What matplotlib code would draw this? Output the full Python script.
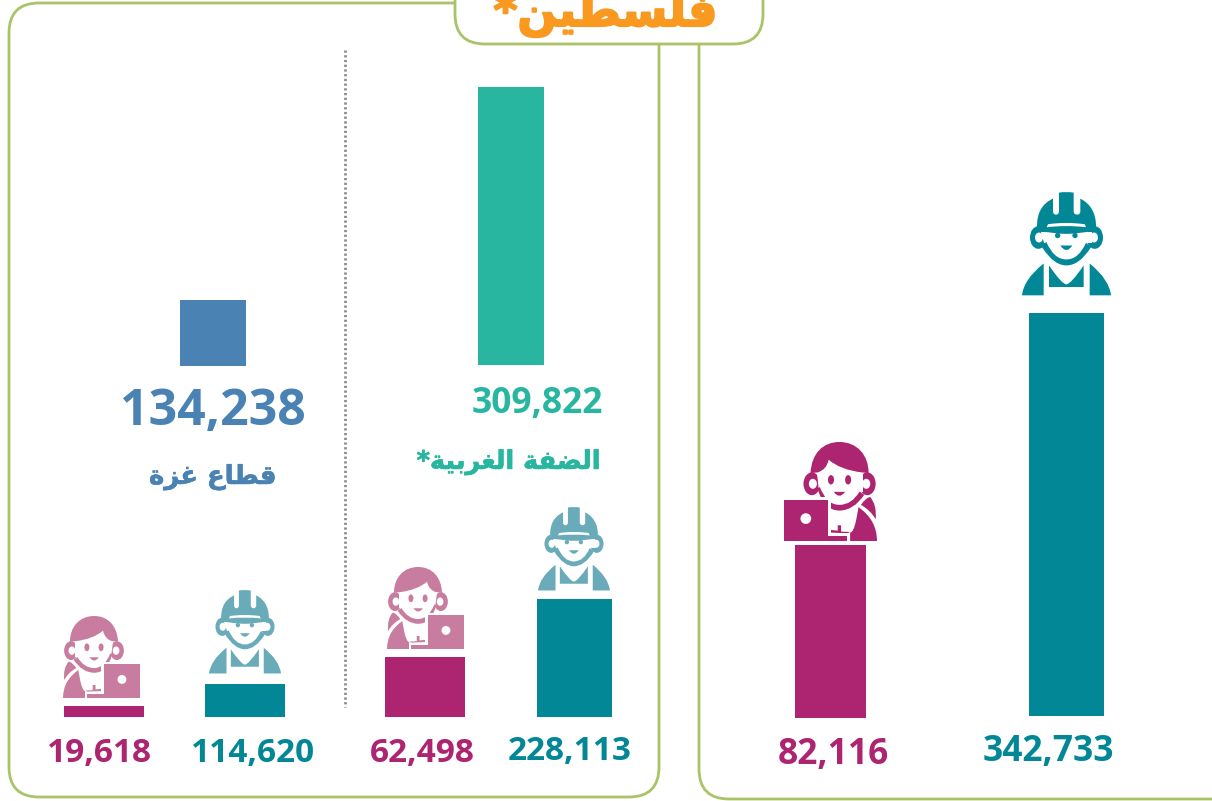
import re
import numpy as np
import matplotlib
matplotlib.use("Agg")
import matplotlib.pyplot as plt
import matplotlib.patheffects as pe
from matplotlib.path import Path
from matplotlib.patches import PathPatch, FancyBboxPatch

# ---------- data ----------
title_text = "فلسطين*"
gaza_text = "قطاع غزة"
westbank_text = "الضفة الغربية*"

gaza_total = 134238
westbank_total = 309822
total_values = [gaza_total, westbank_total]
total_bar_heights = [66, 278]          # pictorial heights as drawn

gaza_values = [19618, 114620]          # women, men
gaza_bar_heights = [11, 33]
westbank_values = [62498, 228113]
westbank_bar_heights = [60, 118]
palestine_values = [82116, 342733]
palestine_bar_heights = [173, 403]

# ---------- colours ----------
MAGENTA, TEAL = "#AD2470", "#028796"
PALE_MAG, PALE_TEAL = "#C87DA0", "#6AABBA"
BLUE, GREEN, ORANGE, FRAME = "#4A82B3", "#29B6A0", "#F9991F", "#A9C467"

plt.rcParams["font.family"] = ["Open Sans", "DejaVu Sans"]

# ---------- Arabic shaping (matplotlib does not shape or reorder) ----------
FORMS = {
    "ا": (0xFE8D, 0xFE8E), "ة": (0xFE93, 0xFE94), "ر": (0xFEAD, 0xFEAE), "ز": (0xFEAF, 0xFEB0),
    "ب": (0xFE8F, 0xFE90, 0xFE91, 0xFE92), "س": (0xFEB1, 0xFEB2, 0xFEB3, 0xFEB4),
    "ض": (0xFEBD, 0xFEBE, 0xFEBF, 0xFEC0), "ط": (0xFEC1, 0xFEC2, 0xFEC3, 0xFEC4),
    "ع": (0xFEC9, 0xFECA, 0xFECB, 0xFECC), "غ": (0xFECD, 0xFECE, 0xFECF, 0xFED0),
    "ف": (0xFED1, 0xFED2, 0xFED3, 0xFED4), "ق": (0xFED5, 0xFED6, 0xFED7, 0xFED8),
    "ل": (0xFEDD, 0xFEDE, 0xFEDF, 0xFEE0), "ن": (0xFEE5, 0xFEE6, 0xFEE7, 0xFEE8),
    "ي": (0xFEF1, 0xFEF2, 0xFEF3, 0xFEF4),
}


def shape(s):
    out = []
    for i, c in enumerate(s):
        f = FORMS.get(c)
        if f is None:
            out.append(c)
            continue
        p = s[i - 1] if i else ""
        n = s[i + 1] if i + 1 < len(s) else ""
        prev_joins = p in FORMS and len(FORMS[p]) == 4
        next_joins = n in FORMS and len(f) == 4
        if prev_joins and next_joins:
            g = f[3]
        elif prev_joins:
            g = f[1]
        elif next_joins:
            g = f[2]
        else:
            g = f[0]
        out.append(chr(g))
    return "".join(reversed(out))


# ---------- icons: outlines traced on a local grid ----------
def svg(d):
    toks = re.findall(r"[MLQCZ]|-?\d+\.?\d*", d)
    v, c, i = [], [], 0
    n = {"M": (1, Path.MOVETO), "L": (1, Path.LINETO), "Q": (2, Path.CURVE3), "C": (3, Path.CURVE4)}
    while i < len(toks):
        t = toks[i]
        i += 1
        if t == "Z":
            v.append(v[-1])
            c.append(Path.CLOSEPOLY)
        else:
            cnt, code = n[t]
            for _ in range(cnt):
                v.append((float(toks[i]), float(toks[i + 1])))
                c.append(code)
                i += 2
    return Path(v, c)


def ell(x, y, rx, ry=None):
    u = Path.unit_circle()
    return Path(u.vertices * [rx, ry or rx] + [x, y], u.codes)


WORKER = ((755, 1022, 37, 350), [
    (1, ell(804, 174, 25, 34)), (1, ell(973, 174, 25, 34)),
    (0, ell(806, 174, 12, 15)), (0, ell(971, 174, 12, 15)),
    (0, svg("M812 158 L965 158 L965 190 L822 190 Z")),
    (1, svg("M800 140 C800 100 815 72 848 57 L848 95 Q848 105 857 105 Q866 105 866 95 L866 39 "
            "Q888 35 910 39 L910 95 Q910 105 921 105 Q930 105 930 95 L930 57 C960 72 977 100 977 140 "
            "L977 152 Q930 163 888 163 Q845 163 800 152 Z")),
    (0, svg("M829 143 L833 134 Q888 126 943 134 L947 143 Q888 136 829 143 Z")),
    (1, svg("M815 203 Q850 258 888 258 Q928 258 962 203 L947 190 Q925 240 888 240 Q850 240 828 187 Z")),
    (1, ell(862, 168, 8)), (1, ell(914, 168, 8)),
    (1, svg("M870 198 L906 198 Q888 225 870 198 Z")),
    (1, svg("M755 348 Q760 300 820 252 L820 348 Z")),
    (1, svg("M1022 348 Q1017 300 958 252 L958 348 Z")),
    (1, svg("M836 258 Q875 315 888 315 Q901 315 940 258 L940 323 L836 323 Z")),
])

WOMAN = ((43, 320, 787, 1083), [
    (1, ell(126, 912, 25, 34)), (1, ell(291, 912, 25, 34)),
    (0, ell(129, 912, 12, 15)), (0, ell(288, 912, 12, 15)),
    (0, svg("M140 880 L278 880 L278 935 L148 935 Z")),
    (1, svg("M122 880 C125 820 160 787 208 787 C260 787 295 825 295 880 L275 878 "
            "Q210 870 176 840 Q170 870 143 878 Z")),
    (1, svg("M143 925 Q160 992 208 992 Q250 992 282 945 L268 935 Q245 975 208 975 Q170 975 150 922 Z")),
    (1, ell(183, 900, 9, 14)), (1, ell(234, 900, 9, 14)),
    (1, svg("M191 936 L225 936 Q208 960 191 936 Z")),
    (1, svg("M272 975 Q290 950 300 952 Q320 975 316 1018 Q300 990 272 975 Z")),
    (1, svg("M240 1083 L240 1058 Q250 1058 258 1020 L265 982 Q320 1020 320 1083 Z")),
    (1, svg("M183 1050 L203 1052 L203 1036 L213 1036 L213 1055 L240 1056 L232 1060 L183 1058 Z")),
    (0, svg("M35 952 L182 952 L182 1060 L240 1060 L240 1090 L35 1090 Z")),
    (1, svg("M43 960 L174 960 L174 1068 L232 1068 L232 1083 L43 1083 Z")),
    (0, ell(108, 1016, 16)),
])


def icon(ax, spec, left, top, w, h, color, mirror=False):
    (x0, x1, y0, y1), shapes = spec
    for dark, p in shapes:
        v = p.vertices.copy()
        fx = (v[:, 0] - x0) / (x1 - x0)
        if mirror:
            fx = 1 - fx
        v = np.column_stack([left + fx * w, top + (v[:, 1] - y0) / (y1 - y0) * h])
        ax.add_patch(PathPatch(Path(v, p.codes), fc=color if dark else "white", lw=0, zorder=4))


# ---------- figure: axes in picture units ----------
fig = plt.figure(figsize=(12.12, 8.01), dpi=100)
ax = fig.add_axes([0, 0, 1, 1])
ax.set_xlim(0, 1212)
ax.set_ylim(801, 0)
ax.axis("off")

# frames
frame = dict(fc="none", ec=FRAME, lw=2.0, zorder=1)
ax.add_patch(FancyBboxPatch((9, 3), 650, 794, boxstyle="round,pad=0,rounding_size=30", **frame))
ax.add_patch(FancyBboxPatch((699, -100), 700, 899, boxstyle="round,pad=0,rounding_size=30", **frame))
ax.add_patch(FancyBboxPatch((455, -100), 308, 144, boxstyle="round,pad=0,rounding_size=30",
                            fc="white", ec=FRAME, lw=2.0, zorder=2))
ax.plot([345, 345], [50, 707], color="#8C8C8C", lw=2.0, ls=(0, (0.8, 0.9)), zorder=1)


def bars(centers, heights, bases, widths, colors):
    ax.bar(centers, -np.asarray(heights, float), width=widths, bottom=bases, color=colors, zorder=3)


bars([104, 245], gaza_bar_heights, 717, 80, [MAGENTA, TEAL])
bars([425, 574.5], westbank_bar_heights, 717, [80, 75], [MAGENTA, TEAL])
bars([213, 511], total_bar_heights, [366, 365], 66, [BLUE, GREEN])
bars([830.5, 1066.5], palestine_bar_heights, [718, 716], [71, 75], [MAGENTA, TEAL])

# icons
icon(ax, WOMAN, 63, 616, 77, 82, PALE_MAG, mirror=True)
icon(ax, WORKER, 209, 590, 72, 84, PALE_TEAL)
icon(ax, WOMAN, 387, 567, 77, 82, PALE_MAG, mirror=True)
icon(ax, WORKER, 538, 507, 72, 84, PALE_TEAL)
icon(ax, WOMAN, 784, 442, 93, 99, MAGENTA)
icon(ax, WORKER, 1022, 192, 89, 104, TEAL)


def num(x, y, v, color, size):
    ax.text(x, y, f"{v:,}", color=color, fontsize=size, fontweight="bold", ha="center", va="center", zorder=5)


num(99.5, 753, gaza_values[0], MAGENTA, 24)
num(253, 753, gaza_values[1], TEAL, 24)
num(422, 754, westbank_values[0], MAGENTA, 24)
num(570, 752, westbank_values[1], TEAL, 24)
num(833, 755, palestine_values[0], MAGENTA, 25.5)
num(1048, 752, palestine_values[1], TEAL, 25.5)
num(213, 412, total_values[0], BLUE, 36)
num(537, 404, total_values[1], GREEN, 25.5)

arab = ["DejaVu Sans"]


def arabic(x, y, s, color, size, stroke, va="center"):
    t = ax.text(x, y, shape(s), color=color, fontsize=size, fontweight="bold",
                family=arab, ha="center", va=va, zorder=5)
    t.set_path_effects([pe.withStroke(linewidth=stroke, foreground=color)])


arabic(213, 477, gaza_text, BLUE, 18.6, 0.5)
arabic(508.5, 462, westbank_text, GREEN, 18.4, 0.5)
arabic(606, 26, title_text, ORANGE, 33, 1.5, va="baseline")

fig.savefig("out.png", dpi=100, facecolor="white")
